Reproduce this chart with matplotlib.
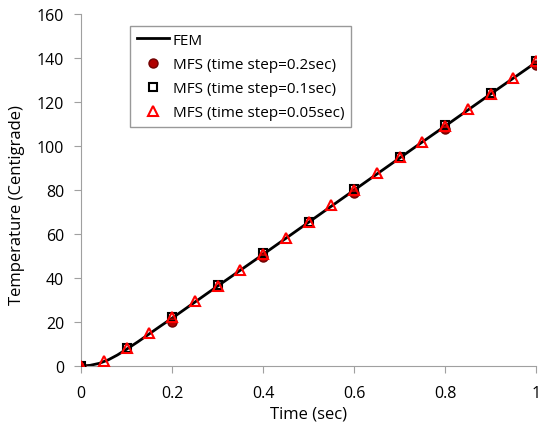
import numpy as np
import matplotlib.pyplot as plt

plt.rcParams['font.family'] = ['Open Sans', 'DejaVu Sans']
plt.rcParams['font.size'] = 11.5

# FEM reference curve
fem_t = [0, 0.02, 0.04, 0.06, 0.08, 0.1, 0.125, 0.15, 0.175, 0.2, 0.25, 0.3, 0.35, 0.4,
         0.45, 0.5, 0.55, 0.6, 0.65, 0.7, 0.75, 0.8, 0.85, 0.9, 0.95, 1.0]
fem_T = [0, 0.3, 1.2, 2.8, 5.0, 7.6, 11.0, 14.6, 18.2, 21.7, 29.0, 36.3, 43.5, 50.7,
         58.0, 65.3, 72.6, 79.9, 87.2, 94.5, 101.8, 109.0, 116.3, 123.6, 130.8, 138.0]

# MFS, time step 0.2 s
t02 = [0, 0.2, 0.4, 0.6, 0.8, 1.0]
T02 = [0, 20.0, 49.5, 78.5, 107.8, 136.8]

# MFS, time step 0.1 s
t01 = [0, 0.1, 0.2, 0.3, 0.4, 0.5, 0.6, 0.7, 0.8, 0.9, 1.0]
T01 = [0, 8.2, 22.2, 36.6, 51.2, 65.6, 80.4, 94.8, 109.4, 124.0, 138.6]

# MFS, time step 0.05 s
t005 = [0, 0.05, 0.1, 0.15, 0.2, 0.25, 0.3, 0.35, 0.4, 0.45, 0.5, 0.55, 0.6, 0.65,
        0.7, 0.75, 0.8, 0.85, 0.9, 0.95, 1.0]
T005 = [0, 2.5, 8.4, 15.0, 22.4, 29.4, 36.4, 43.8, 51.0, 58.2, 65.4, 73.0, 80.2, 87.6,
        94.8, 102.0, 109.2, 116.6, 123.8, 131.0, 138.6]

fig = plt.figure(figsize=(5.4, 4.27), dpi=100)
ax = fig.add_axes([0.150, 0.1405, 0.8426, 0.8244])

ax.plot(fem_t, fem_T, color='black', lw=2, label='FEM', zorder=2)
ax.plot(t02, T02, 'o', ms=6.5, mfc='#b00000', mec='#700000', mew=1,
        label='MFS (time step=0.2sec)', zorder=3)
ax.plot(t01, T01, 's', ms=5.5, mfc='none', mec='black', mew=1.5,
        label='MFS (time step=0.1sec)', zorder=4)
ax.plot(t005, T005, '^', ms=6.5, mfc='none', mec='#ff0000', mew=1.5,
        label='MFS (time step=0.05sec)', zorder=5)

ax.set_xlim(0, 1)
ax.set_ylim(0, 160)
ax.set_xticks(np.arange(0, 1.01, 0.2))
ax.set_xticklabels(['0', '0.2', '0.4', '0.6', '0.8', '1'])
ax.set_yticks(range(0, 161, 20))

for s in ['top', 'right']:
    ax.spines[s].set_visible(False)
for s in ['left', 'bottom']:
    ax.spines[s].set_color('#a0a0a0')
ax.tick_params(direction='out', length=5, color='#a0a0a0', labelsize=11.5)
ax.tick_params(axis='y', pad=7)
ax.tick_params(axis='x', pad=9)

ax.set_xlabel('Time (sec)', fontsize=12)
ax.set_ylabel('Temperature (Centigrade)', fontsize=12)
ax.xaxis.set_label_coords(0.5, -0.113)
ax.yaxis.set_label_coords(-0.124, 0.46)

leg = ax.legend(loc='upper left', bbox_to_anchor=(0.108, 0.966), borderaxespad=0,
                fancybox=False, edgecolor='#808080', fontsize=11, handlelength=2.1,
                labelspacing=0.6, handletextpad=0.25, borderpad=0.45)
leg.get_frame().set_linewidth(1)

fig.savefig('out.png', dpi=100)
